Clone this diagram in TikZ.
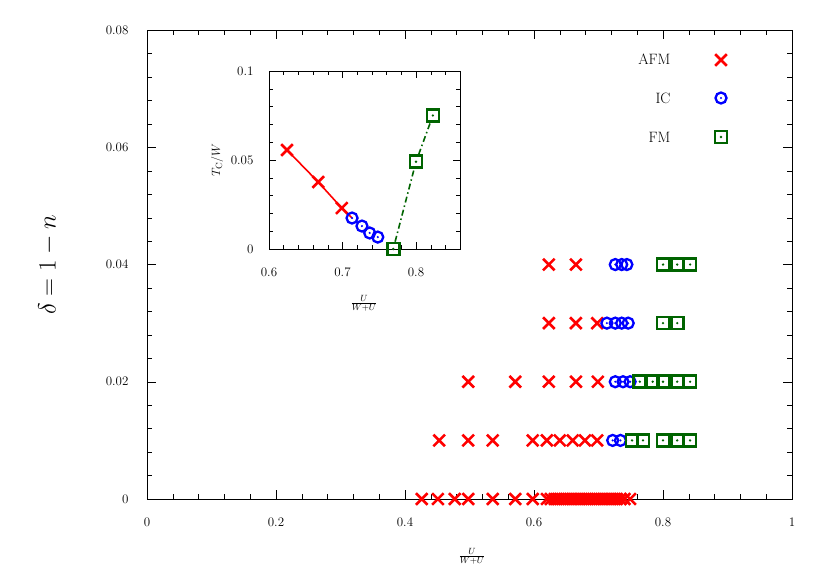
\documentclass[tikz,border=0pt]{standalone}
\usetikzlibrary{shapes.misc}
\definecolor{fmgreen}{RGB}{0,100,0}
\tikzset{
 afm/.style={cross out,draw=red,line width=2.6pt,minimum size=9pt,inner sep=0pt},
 ic/.style={circle,draw=blue,line width=2.3pt,minimum size=11pt,inner sep=0pt,
   path picture={\fill[blue](path picture bounding box.center) circle (1.2pt);}},
 fm/.style={rectangle,draw=fmgreen,line width=2.6pt,minimum size=12pt,inner sep=0pt,
   path picture={\fill[fmgreen](path picture bounding box.center) circle (1.3pt);}},
 lab/.style={font=\fontsize{13}{15}\selectfont},
}
\newcommand{\MX}[1]{147+645*#1}
\newcommand{\MY}[1]{499-5862.5*#1}
\newcommand{\IX}[1]{269+735*(#1-0.6)}
\newcommand{\IY}[1]{249-1780*#1}
\begin{document}
\begin{tikzpicture}[x=1pt,y=-1pt]
\useasboundingbox (0,0) rectangle (830,581);
% main axes
\draw[line width=0.8pt] (147,30) rectangle (792,499);
\foreach \v in {0,0.04,...,1.001}{\draw ({\MX{\v}},499) -- ++(0,-5) ({\MX{\v}},30) -- ++(0,5);}
\foreach \v in {0,0.2,...,1.001}{\draw ({\MX{\v}},499) -- ++(0,-9) ({\MX{\v}},30) -- ++(0,9);}
\foreach \v in {0,0.004,...,0.0801}{\draw (147,{\MY{\v}}) -- ++(5,0) (792,{\MY{\v}}) -- ++(-5,0);}
\foreach \v in {0,0.02,...,0.0801}{\draw (147,{\MY{\v}}) -- ++(9,0) (792,{\MY{\v}}) -- ++(-9,0);}
\foreach \v/\t in {0/0,0.2/0.2,0.4/0.4,0.6/0.6,0.8/0.8,1/1}{\node[lab] (xl\t) at ({\MX{\v}},522) {\t};}
\foreach \v/\t in {0/0,0.02/0.02,0.04/0.04,0.06/0.06,0.08/0.08}{\node[lab,anchor=east] (yl\t) at (132,{\MY{\v}}) {\t};}
\node[lab] (xlab) at (472,556) {$\frac{U}{W+U}$};
\node[rotate=90,font=\fontsize{30}{34}\selectfont] (ylab) at (48,265) {$\delta=1-n$};
% data row 0
\foreach \u in {0.426,0.451,0.477,0.498,0.536,0.571,0.598,0.62,0.626,...,0.741,0.749}{\node[afm] at ({\MX{\u}},{\MY{0}}) {};}
% row 0.01
\foreach \u in {0.453,0.498,0.536,0.598,0.620,0.640,0.660,0.679,0.698}{\node[afm] at ({\MX{\u}},{\MY{0.01}}) {};}
\foreach \u in {0.722,0.734}{\node[ic] at ({\MX{\u}},{\MY{0.01}}) {};}
\foreach \u in {0.752,0.769,0.8,0.822,0.842}{\node[fm] at ({\MX{\u}},{\MY{0.01}}) {};}
% row 0.02
\foreach \u in {0.498,0.571,0.623,0.665,0.699}{\node[afm] at ({\MX{\u}},{\MY{0.02}}) {};}
\foreach \u in {0.726,0.738,0.749}{\node[ic] at ({\MX{\u}},{\MY{0.02}}) {};}
\foreach \u in {0.764,0.784,0.8,0.822,0.842}{\node[fm] at ({\MX{\u}},{\MY{0.02}}) {};}
% row 0.03
\foreach \u in {0.623,0.665,0.698}{\node[afm] at ({\MX{\u}},{\MY{0.03}}) {};}
\foreach \u in {0.713,0.726,0.736,0.746}{\node[ic] at ({\MX{\u}},{\MY{0.03}}) {};}
\foreach \u in {0.8,0.822}{\node[fm] at ({\MX{\u}},{\MY{0.03}}) {};}
% row 0.04
\foreach \u in {0.623,0.665}{\node[afm] at ({\MX{\u}},{\MY{0.04}}) {};}
\foreach \u in {0.726,0.736,0.744}{\node[ic] at ({\MX{\u}},{\MY{0.04}}) {};}
\foreach \u in {0.8,0.822,0.842}{\node[fm] at ({\MX{\u}},{\MY{0.04}}) {};}
% legend
\node[anchor=east,font=\fontsize{15}{17}\selectfont] (lafm) at (674,59) {AFM};
\node[anchor=east,font=\fontsize{15}{17}\selectfont] (lic) at (674,98) {IC};
\node[anchor=east,font=\fontsize{15}{17}\selectfont] (lfm) at (674,137) {FM};
\node[afm] (mafm) at (721,60) {};
\node[ic] (mic) at (721,98) {};
\node[fm] (mfm) at (721,137) {};
% inset
\fill[white] (269,71) rectangle (460,249);
\draw[line width=0.8pt] (269,71) rectangle (460,249);
\foreach \v in {0.62,0.64,...,0.861}{\draw ({\IX{\v}},249) -- ++(0,-4) ({\IX{\v}},71) -- ++(0,4);}
\foreach \v in {0.6,0.7,0.8}{\draw ({\IX{\v}},249) -- ++(0,-7) ({\IX{\v}},71) -- ++(0,7);}
\foreach \v in {0,0.01,...,0.1001}{\draw (269,{\IY{\v}}) -- ++(4,0) (460,{\IY{\v}}) -- ++(-4,0);}
\foreach \v in {0,0.05,0.1}{\draw (269,{\IY{\v}}) -- ++(7,0) (460,{\IY{\v}}) -- ++(-7,0);}
\foreach \v/\t in {0.6/0.6,0.7/0.7,0.8/0.8}{\node[lab] (ixl\t) at ({\IX{\v}},272) {\t};}
\foreach \v/\t in {0/0,0.05/0.05,0.1/0.1}{\node[lab,anchor=east] (iyl\t) at (257,{\IY{\v}}) {\t};}
\node[lab] (ixlab) at (364,303) {$\frac{U}{W+U}$};
\node[lab,rotate=90] (iylab) at (217,160) {$T_{\mathrm{C}}/W$};
\node[afm] (a1) at ({\IX{0.6245}},{\IY{0.0556}}) {};
\node[afm] (a2) at ({\IX{0.667}},{\IY{0.0376}}) {};
\node[afm] (a3) at ({\IX{0.699}},{\IY{0.023}}) {};
\coordinate (a4) at ({\IX{0.713}},{\IY{0.0174}});
\draw[red,line width=1.6pt] (a1.center) -- (a2.center) -- (a3.center) -- (a4);
\node[ic] (c1) at ({\IX{0.713}},{\IY{0.0174}}) {};
\node[ic] (c2) at ({\IX{0.7265}},{\IY{0.0129}}) {};
\node[ic] (c3) at ({\IX{0.737}},{\IY{0.009}}) {};
\node[ic] (c4) at ({\IX{0.748}},{\IY{0.0067}}) {};
\node[fm] (s1) at ({\IX{0.769}},{\IY{0}}) {};
\node[fm] (s2) at ({\IX{0.800}},{\IY{0.049}}) {};
\node[fm] (s3) at ({\IX{0.823}},{\IY{0.075}}) {};
\draw[fmgreen,line width=1.6pt,dash pattern=on 6pt off 3pt on 1.5pt off 3pt] (s1) -- (s2) -- (s3);
\end{tikzpicture}
\end{document}
